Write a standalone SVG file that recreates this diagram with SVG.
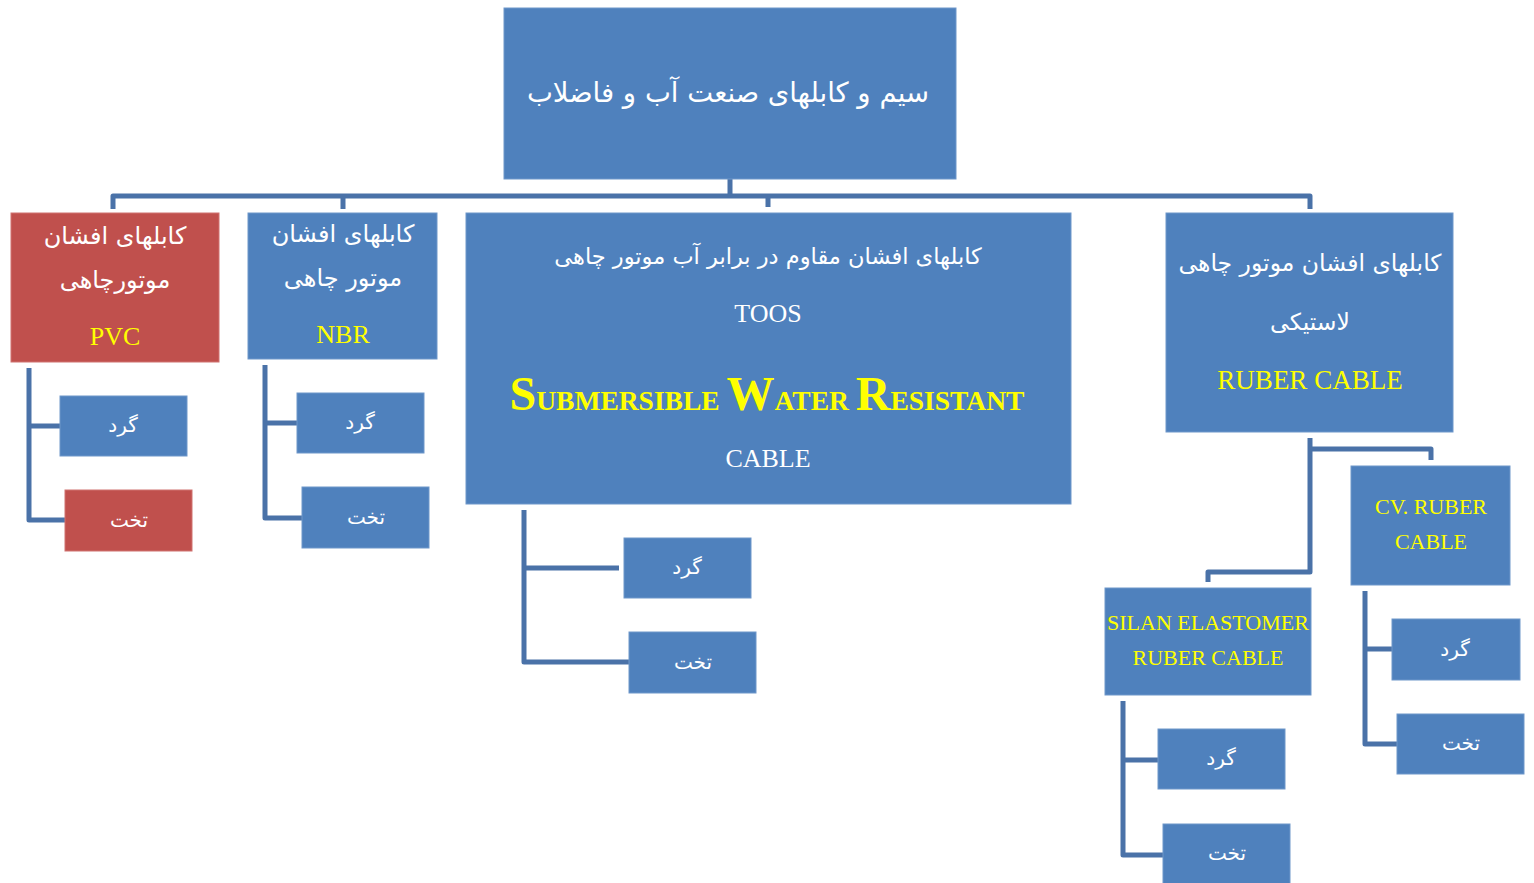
<svg xmlns="http://www.w3.org/2000/svg" width="1534" height="883" viewBox="0 0 1534 883">
<style>
.b{fill:#4F81BD;stroke:#6F97CA;stroke-width:1}
.r{fill:#C0504D;stroke:#D07270;stroke-width:1}
.fa{font-family:"DejaVu Sans","Noto Sans",sans-serif;fill:#fff;text-anchor:middle}
.en{font-family:"Liberation Serif",serif;text-anchor:middle}
.w{fill:#fff}
.y{fill:#FFFF00}
.c{fill:none;stroke:#4A72A8;stroke-width:5;stroke-linejoin:round}
</style>
<rect width="1534" height="883" fill="#fff"/>
<g id="connectors">
<path class="c" d="M730 179V196M113 209V196H1310V209M343 196V209M768 196V207"/>
<path class="c" d="M29 368V520H65M29 426H60"/>
<path class="c" d="M265 365V518H302M265 423H297"/>
<path class="c" d="M524 510V662H629M524 568H619"/>
<path class="c" d="M1310 438V572H1208V582M1310 449H1431V460"/>
<path class="c" d="M1123 701V855H1163M1123 760H1158"/>
<path class="c" d="M1365 591V744H1397M1365 649H1392"/>
</g>
<g id="root">
<rect class="b" x="504" y="8" width="452" height="171"/>
<text class="fa" x="728" y="102" font-size="27.5">سیم و کابلهای صنعت آب و فاضلاب</text>
</g>
<g id="pvc">
<rect class="r" x="11" y="213" width="208" height="149"/>
<text class="fa" x="115" y="244" font-size="24">کابلهای افشان</text>
<text class="fa" x="115" y="288" font-size="24">موتورچاهی</text>
<text class="en y" x="115" y="345" font-size="26">PVC</text>
</g>
<g id="pvc-round"><rect class="b" x="60" y="396" width="127" height="60"/><text class="fa" x="123" y="432" font-size="20">گرد</text></g>
<g id="pvc-flat"><rect class="r" x="65" y="490" width="127" height="61"/><text class="fa" x="129" y="527" font-size="20">تخت</text></g>
<g id="nbr">
<rect class="b" x="248" y="213" width="189" height="146"/>
<text class="fa" x="343" y="242" font-size="24">کابلهای افشان</text>
<text class="fa" x="343" y="286" font-size="24">موتور چاهی</text>
<text class="en y" x="343" y="343" font-size="26">NBR</text>
</g>
<g id="nbr-round"><rect class="b" x="297" y="393" width="127" height="60"/><text class="fa" x="360" y="429" font-size="20">گرد</text></g>
<g id="nbr-flat"><rect class="b" x="302" y="487" width="127" height="61"/><text class="fa" x="366" y="524" font-size="20">تخت</text></g>
<g id="swr">
<rect class="b" x="466" y="213" width="605" height="291"/>
<text class="fa" x="768" y="264" font-size="22.5">کابلهای افشان مقاوم در برابر آب موتور چاهی</text>
<text class="en w" x="768" y="322" font-size="26">TOOS</text>
<text class="en y" x="767" y="410" font-weight="bold"><tspan font-size="48">S</tspan><tspan font-size="27.5">UBMERSIBLE </tspan><tspan font-size="48">W</tspan><tspan font-size="27.5">ATER </tspan><tspan font-size="48">R</tspan><tspan font-size="27.5">ESISTANT</tspan></text>
<text class="en w" x="768" y="467" font-size="26">CABLE</text>
</g>
<g id="swr-round"><rect class="b" x="624" y="538" width="127" height="60"/><text class="fa" x="687" y="574" font-size="20">گرد</text></g>
<g id="swr-flat"><rect class="b" x="629" y="632" width="127" height="61"/><text class="fa" x="693" y="669" font-size="20">تخت</text></g>
<g id="ruber">
<rect class="b" x="1166" y="213" width="287" height="219"/>
<text class="fa" x="1310" y="271" font-size="23.5">کابلهای افشان موتور چاهی</text>
<text class="fa" x="1310" y="330" font-size="23.5">لاستیکی</text>
<text class="en y" x="1310" y="389" font-size="27">RUBER CABLE</text>
</g>
<g id="cv">
<rect class="b" x="1351" y="466" width="159" height="119"/>
<text class="en y" x="1431" y="514" font-size="22">CV. RUBER</text>
<text class="en y" x="1431" y="549" font-size="22">CABLE</text>
</g>
<g id="cv-round"><rect class="b" x="1392" y="619" width="128" height="61"/><text class="fa" x="1455" y="656" font-size="20">گرد</text></g>
<g id="cv-flat"><rect class="b" x="1397" y="714" width="127" height="60"/><text class="fa" x="1461" y="750" font-size="20">تخت</text></g>
<g id="silan">
<rect class="b" x="1105" y="588" width="206" height="107"/>
<text class="en y" x="1208" y="630" font-size="22">SILAN ELASTOMER</text>
<text class="en y" x="1208" y="665" font-size="22">RUBER CABLE</text>
</g>
<g id="silan-round"><rect class="b" x="1158" y="729" width="127" height="60"/><text class="fa" x="1221" y="765" font-size="20">گرد</text></g>
<g id="silan-flat"><rect class="b" x="1163" y="824" width="127" height="60"/><text class="fa" x="1227" y="860" font-size="20">تخت</text></g>
</svg>
